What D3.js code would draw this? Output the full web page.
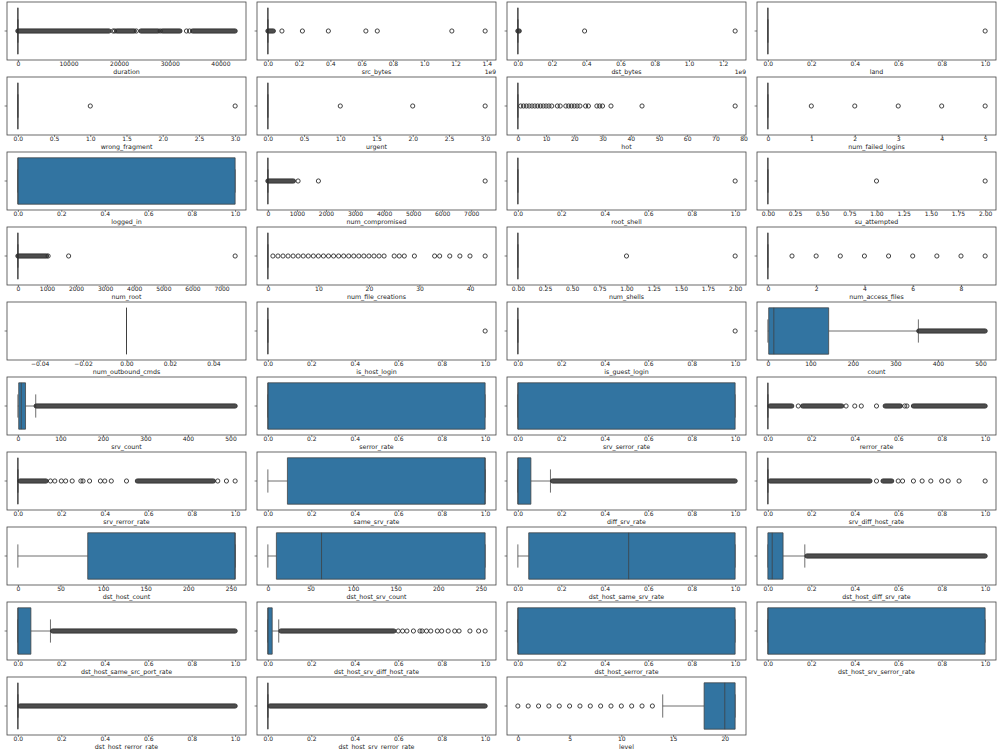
<!DOCTYPE html>
<html>
<head>
<meta charset="utf-8">
<script src="https://cdn.jsdelivr.net/npm/d3@7"></script>
<style>
  body { margin: 0; background: #fff; }
  text { font-family: "DejaVu Sans", sans-serif; }
</style>
</head>
<body>
<div id="chart"></div>
<script>
// box plots of every numeric column, 4 per row

const features = [
  "duration", "src_bytes", "dst_bytes", "land",
  "wrong_fragment", "urgent", "hot", "num_failed_logins",
  "logged_in", "num_compromised", "root_shell", "su_attempted",
  "num_root", "num_file_creations", "num_shells", "num_access_files",
  "num_outbound_cmds", "is_host_login", "is_guest_login", "count",
  "srv_count", "serror_rate", "srv_serror_rate", "rerror_rate",
  "srv_rerror_rate", "same_srv_rate", "diff_srv_rate", "srv_diff_host_rate",
  "dst_host_count", "dst_host_srv_count", "dst_host_same_srv_rate", "dst_host_diff_srv_rate",
  "dst_host_same_src_port_rate", "dst_host_srv_diff_host_rate", "dst_host_serror_rate", "dst_host_srv_serror_rate",
  "dst_host_rerror_rate", "dst_host_srv_rerror_rate", "level"
];

const q1 = [0,0,0,0, 0,0,0,0, 0,0,0,0, 0,0,0,0, 0,0,0,2, 2,0,0,0, 0,0.09,0,0, 82,10,0.05,0, 0,0,0,0, 0,0,18];
const median = [0,0,0,0, 0,0,0,0, 0,0,0,0, 0,0,0,0, 0,0,0,14, 8,0,0,0, 0,1,0,0, 255,63,0.51,0.02, 0,0,0,0, 0,0,20];
const q3 = [0,0,0,0, 0,0,0,0, 1,0,0,0, 0,0,0,0, 0,0,0,143, 18,1,1,0, 0,1,0.06,0, 255,255,1,0.07, 0.06,0.02,1,1, 0,0,21];
const whiskerLo = [0,0,0,0, 0,0,0,0, 0,0,0,0, 0,0,0,0, 0,0,0,0, 0,0,0,0, 0,0,0,0, 0,0,0,0, 0,0,0,0, 0,0,14];
const whiskerHi = [0,0,0,0, 0,0,0,0, 1,0,0,0, 0,0,0,0, 0,0,0,354, 42,1,1,0, 0,1,0.15,0, 255,255,1,0.17, 0.15,0.05,1,1, 0,0,21];

// single outliers
const outliers = [
  [18800, 19100, 23400, 28100, 33300, 33900],
  [0.09e9, 0.221e9, 0.387e9, 0.627e9, 0.7e9, 1.177e9, 1.39e9],
  [0.39e9, 1.27e9],
  [1],
  [1, 3],
  [1, 2, 3],
  [1,2,3,4,5,6,7,8,9,10,11,12,14,15,17,18,19,20,21,22,24,25,28,29,30,33,44,77],
  [1, 2, 3, 4, 5],
  [],
  [1040, 1740, 7479],
  [1],
  [1, 2],
  [1040, 1745, 7468],
  [1,2,3,4,5,6,7,8,9,10,11,12,13,14,15,16,17,18,19,20,21,22,23,25,26,27,29,33,34,36,38,40,43],
  [1, 2],
  [1, 2, 3, 4, 5, 6, 7, 8, 9],
  [],
  [1],
  [1],
  [],
  [],
  [],
  [],
  [0.14, 0.36, 0.4, 0.43, 0.5, 0.63, 0.64],
  [0.15, 0.17, 0.2, 0.22, 0.25, 0.29, 0.3, 0.33, 0.38, 0.4, 0.43, 0.5, 0.92, 0.96, 1.0],
  [],
  [],
  [0.5, 0.6, 0.62, 0.67, 0.71, 0.75, 0.8, 0.83, 0.88, 1.0],
  [],
  [],
  [],
  [],
  [],
  [0.6, 0.62, 0.64, 0.67, 0.7, 0.71, 0.73, 0.75, 0.78, 0.8, 0.83, 0.86, 0.88, 0.93, 0.97, 1.0],
  [],
  [],
  [],
  [],
  [0,1,2,3,4,5,6,7,8,9,10,11,12,13]
];

// stretches where the outliers sit so close they merge into a bar
const outlierRuns = [
  [[1, 18000], [19500, 23000], [24300, 27700], [28500, 32000], [34500, 42908]],
  [[3e5, 3.5e7]],
  [[1, 8e6]],
  [], [], [], [], [], [],
  [[1, 880]],
  [], [],
  [[1, 990]],
  [], [], [], [], [], [],
  [[355, 511]],
  [[43, 511]],
  [], [],
  [[0.01, 0.11], [0.16, 0.34], [0.54, 0.61], [0.67, 1.0]],
  [[0.01, 0.13], [0.55, 0.9]],
  [],
  [[0.16, 1.0]],
  [[0.01, 0.47], [0.53, 0.57]],
  [], [], [],
  [[0.18, 1.0]],
  [[0.16, 1.0]],
  [[0.06, 0.58]],
  [], [],
  [[0.01, 1.0]],
  [[0.01, 1.0]],
  []
];

// tick sets
const tRate = [0, 0.2, 0.4, 0.6, 0.8, 1.0];
const tHalf = [0, 0.5, 1, 1.5, 2, 2.5, 3];
const tQuarter = [0, 0.25, 0.5, 0.75, 1, 1.25, 1.5, 1.75, 2];
const tThousands = [0, 1000, 2000, 3000, 4000, 5000, 6000, 7000];
const tHundreds = [0, 100, 200, 300, 400, 500];
const tFifties = [0, 50, 100, 150, 200, 250];

const panelTicks = [
  [0, 10000, 20000, 30000, 40000],
  [0, 0.2e9, 0.4e9, 0.6e9, 0.8e9, 1.0e9, 1.2e9, 1.4e9],
  [0, 0.2e9, 0.4e9, 0.6e9, 0.8e9, 1.0e9, 1.2e9],
  tRate,
  tHalf, tHalf, [0, 10, 20, 30, 40, 50, 60, 70, 80], [0, 1, 2, 3, 4, 5],
  tRate, tThousands, tRate, tQuarter,
  tThousands, [0, 10, 20, 30, 40], tQuarter, [0, 2, 4, 6, 8],
  [-0.04, -0.02, 0, 0.02, 0.04], tRate, tRate, tHundreds,
  tHundreds, tRate, tRate, tRate,
  tRate, tRate, tRate, tRate,
  tFifties, tFifties, tRate, tRate,
  tRate, tRate, tRate, tRate,
  tRate, tRate, [0, 5, 10, 15, 20]
];
const tickFormats = [
  "d", ".1f", ".1f", ".1f",
  ".1f", ".1f", "d", "d",
  ".1f", "d", ".1f", ".2f",
  "d", "d", ".2f", "d",
  ".2f", ".1f", ".1f", "d",
  "d", ".1f", ".1f", ".1f",
  ".1f", ".1f", ".1f", ".1f",
  "d", "d", ".1f", ".1f",
  ".1f", ".1f", ".1f", ".1f",
  ".1f", ".1f", "d"
];
const offsetLabels = ["", "1e9", "1e9"];

// layout
const width = 1000, height = 750;
const colLeft = [7, 257, 507, 757];
const axW = 239, axH = 58, rowStep = 75, rowTop = 2;
const boxFill = "#3274a1", lineColor = "#3f3f3f", fliersColor = "#2e2e2e";
const r = 2.1;

let svg = d3.select("#chart")
  .append("svg")
  .attr("width", width)
  .attr("height", height);

features.forEach((name, i) => {
  const col = i % 4, row = Math.floor(i / 4);
  let g = svg.append("g")
    .attr("transform", `translate(${colLeft[col]}, ${rowTop + row * rowStep})`);

  const singles = outliers[i], runs = outlierRuns[i];
  const all = [q1[i], q3[i], whiskerLo[i], whiskerHi[i], ...singles, ...runs.flat()];
  let lo = d3.min(all), hi = d3.max(all);
  if (lo === hi) { lo -= 0.05; hi += 0.05; }
  const pad = (hi - lo) * 0.05;

  let x = d3.scaleLinear().domain([lo - pad, hi + pad]).range([0, axW]);
  let y = d3.scaleBand().domain([name]).range([0, axH]).paddingInner(0.2).paddingOuter(0.1);
  const y0 = y(name), bh = y.bandwidth(), cy = y0 + bh / 2;

  // whiskers + caps
  g.append("line").attr("x1", x(whiskerLo[i])).attr("x2", x(q1[i]))
    .attr("y1", cy).attr("y2", cy)
    .attr("stroke", lineColor).attr("stroke-width", 0.75);
  g.append("line").attr("x1", x(q3[i])).attr("x2", x(whiskerHi[i]))
    .attr("y1", cy).attr("y2", cy)
    .attr("stroke", lineColor).attr("stroke-width", 0.75);
  [whiskerLo[i], whiskerHi[i]].forEach(v => {
    g.append("line").attr("x1", x(v)).attr("x2", x(v))
      .attr("y1", cy - bh / 4).attr("y2", cy + bh / 4)
      .attr("stroke", lineColor).attr("stroke-width", 0.75);
  });

  // box (path so a zero-width box still shows as a line)
  g.append("path")
    .attr("d", `M${x(q1[i])},${y0}H${x(q3[i])}V${y0 + bh}H${x(q1[i])}Z`)
    .attr("fill", boxFill)
    .attr("stroke", lineColor)
    .attr("stroke-width", 0.75);

  g.append("line").attr("x1", x(median[i])).attr("x2", x(median[i]))
    .attr("y1", y0).attr("y2", y0 + bh)
    .attr("stroke", lineColor).attr("stroke-width", 0.75);

  // merged outliers
  g.selectAll("rect.run").data(runs).enter()
    .append("rect")
    .attr("class", "run")
    .attr("x", d => x(d[0]) - r)
    .attr("width", d => x(d[1]) - x(d[0]) + 2 * r)
    .attr("y", cy - r)
    .attr("height", 2 * r)
    .attr("rx", r)
    .attr("fill", fliersColor)
    .attr("fill-opacity", 0.85)
    .attr("stroke", fliersColor)
    .attr("stroke-width", 0.9);

  g.selectAll("circle").data(singles).enter()
    .append("circle")
    .attr("cx", d => x(d))
    .attr("cy", cy)
    .attr("r", r)
    .attr("fill", "none")
    .attr("stroke", fliersColor)
    .attr("stroke-width", 0.9);

  // frame
  g.append("rect")
    .attr("width", axW).attr("height", axH)
    .attr("fill", "none")
    .attr("stroke", "#444")
    .attr("stroke-width", 0.8);

  // y tick (no label)
  g.append("line").attr("x1", -2.4).attr("x2", 0).attr("y1", cy).attr("y2", cy)
    .attr("stroke", "#444").attr("stroke-width", 0.7);

  // x axis
  const offset = offsetLabels[i] || "";
  const div = offset ? Number(offset) : 1;
  const fmt = d3.format(tickFormats[i]);
  let ax = g.append("g")
    .attr("transform", `translate(0, ${axH})`)
    .call(d3.axisBottom(x).tickValues(panelTicks[i])
      .tickFormat(d => fmt(d / div))
      .tickSize(2).tickPadding(0));
  ax.select(".domain").remove();
  ax.selectAll(".tick line").attr("stroke", "#444").attr("stroke-width", 0.7);
  ax.selectAll(".tick text")
    .attr("fill", "#1a1a1a")
    .style("font-size", "6px")
    .style("font-family", "DejaVu Sans, sans-serif");

  g.append("text")
    .attr("x", axW / 2)
    .attr("y", axH + 13.5)
    .attr("text-anchor", "middle")
    .style("font-size", "6.3px")
    .attr("fill", "#1a1a1a")
    .text(name);

  if (offset) {
    g.append("text")
      .attr("x", axW)
      .attr("y", axH + 13.5)
      .attr("text-anchor", "end")
      .style("font-size", "6px")
      .attr("fill", "#1a1a1a")
      .text(offset);
  }
});
</script>
</body>
</html>
